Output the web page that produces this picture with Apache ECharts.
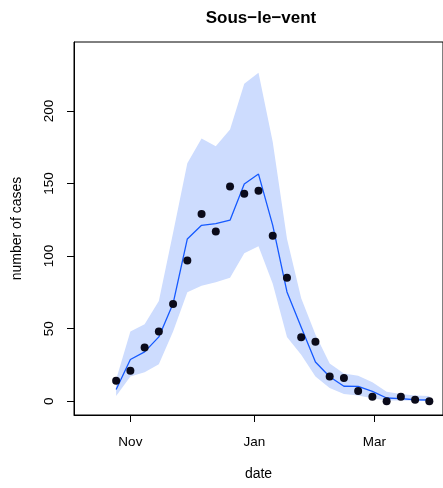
<!DOCTYPE html>
<html>
<head>
<meta charset="utf-8">
<title>Sous-le-vent</title>
<script src="https://cdn.jsdelivr.net/npm/echarts@6/dist/echarts.min.js"></script>
<style>
  html, body { margin: 0; padding: 0; background: #fff; }
  #chart { width: 443px; height: 488px; }
</style>
</head>
<body>
<div id="chart"></div>
<script>
// Weekly reported cases with model median and prediction band
const weeks = [
  '2020-10-25', '2020-11-01', '2020-11-08', '2020-11-15', '2020-11-22', '2020-11-29',
  '2020-12-06', '2020-12-13', '2020-12-20', '2020-12-27', '2021-01-03', '2021-01-10',
  '2021-01-17', '2021-01-24', '2021-01-31', '2021-02-07', '2021-02-14', '2021-02-21',
  '2021-02-28', '2021-03-07', '2021-03-14', '2021-03-21', '2021-03-28'
];
const observed = [14, 21, 37, 48, 67, 97, 129, 117, 148, 143, 145, 114, 85, 44, 41, 17, 16, 7, 3, 0, 3, 1, 0];
const median = [8, 28.7, 34, 44.3, 67.3, 111.8, 121.2, 122.4, 124.7, 149.7, 156.5, 121.2, 75.3, 51, 27, 16.8, 10.3, 10.2, 6.8, 2.2, 1.7, 1, 0.8];
const upper = [15, 48, 53, 69, 116, 164, 181, 175.6, 187.3, 218.8, 226.4, 178.6, 112, 71, 46, 26, 19, 17.5, 13, 6.5, 5, 4, 3.5];
const lower = [3.5, 17, 20, 25.5, 48, 75, 79.5, 82, 85, 102, 106.8, 81, 44.3, 32, 17, 9, 5, 4, 2, 0.5, 0.5, 0.5, 0.5];

const yTicks = [0, 50, 100, 150, 200];
const xTickDates = ['2020-11-01', '2021-01-01', '2021-03-01'];
const xTickLabels = ['Nov', 'Jan', 'Mar'];

// Plot limits (data range padded by 4% on each side)
const xLimits = ['2020-10-11', '2021-03-28'];
const yLimits = [0, 238];

const FONT = '"Liberation Sans", Arial, Helvetica, sans-serif';
const t = weeks.map(d => Date.parse(d));
const xTicks = xTickDates.map(d => Date.parse(d));
const x0 = Date.parse(xLimits[0]), x1 = Date.parse(xLimits[1]);
const xPad = 0.04 * (x1 - x0);
const yPad = 0.04 * (yLimits[1] - yLimits[0]);

const pairs = arr => arr.map((v, i) => [t[i], v]);

// Band polygon: upper edge left to right, then lower edge right to left
function renderBand(params, api) {
  const pts = [];
  for (let i = 0; i < t.length; i++) pts.push(api.coord([t[i], upper[i]]));
  for (let i = t.length - 1; i >= 0; i--) pts.push(api.coord([t[i], lower[i]]));
  return {
    type: 'polygon',
    shape: { points: pts },
    style: { fill: '#cddcfe', stroke: null },
    silent: true
  };
}

const chart = echarts.init(document.getElementById('chart'), null, { renderer: 'canvas' });
chart.setOption({
  animation: false,
  backgroundColor: '#ffffff',
  textStyle: { fontFamily: FONT },
  graphic: [{
    type: 'text',
    x: 261, y: 18,
    style: {
      text: 'Sous\u2212le\u2212vent',
      fill: '#000',
      font: 'bold 17px ' + FONT,
      textAlign: 'center',
      textVerticalAlign: 'middle'
    }
  }],
  grid: {
    left: 74, top: 42, right: -5, bottom: 73,
    show: true, borderColor: '#000', borderWidth: 1, backgroundColor: 'transparent'
  },
  xAxis: {
    type: 'value',
    min: x0 - xPad,
    max: x1 + xPad,
    splitLine: { show: false },
    axisLine: { show: true, onZero: false, lineStyle: { color: '#000', width: 1 } },
    axisTick: { show: true, inside: false, length: 7, customValues: xTicks, lineStyle: { color: '#000' } },
    axisLabel: {
      customValues: xTicks,
      margin: 20,
      color: '#000',
      fontSize: 13.5,
      fontFamily: FONT,
      formatter: v => {
        const i = xTicks.indexOf(v);
        return i >= 0 ? xTickLabels[i] : '';
      }
    },
    name: 'date',
    nameLocation: 'middle',
    nameGap: 52,
    nameTextStyle: { color: '#000', fontSize: 14, fontFamily: FONT }
  },
  yAxis: {
    type: 'value',
    min: yLimits[0] - yPad,
    max: yLimits[1] + yPad,
    splitLine: { show: false },
    axisLine: { show: true, onZero: false, lineStyle: { color: '#000', width: 1 } },
    axisTick: { show: true, inside: false, length: 7, customValues: yTicks, lineStyle: { color: '#000' } },
    axisLabel: {
      customValues: yTicks,
      rotate: 90,
      margin: 18,
      color: '#000',
      fontSize: 13.5,
      fontFamily: FONT
    },
    name: 'number of cases',
    nameLocation: 'middle',
    nameGap: 50,
    nameRotate: 90,
    nameTextStyle: { color: '#000', fontSize: 14, fontFamily: FONT }
  },
  series: [
    {
      name: 'band',
      type: 'custom',
      renderItem: renderBand,
      data: [[t[0], upper[0]]],
      clip: true,
      silent: true,
      z: 1
    },
    {
      name: 'median',
      type: 'line',
      data: pairs(median),
      symbol: 'none',
      lineStyle: { color: '#1559ff', width: 1.3 },
      z: 2
    },
    {
      name: 'observed',
      type: 'scatter',
      data: pairs(observed),
      symbol: 'circle',
      symbolSize: 8,
      itemStyle: { color: '#0a0a1a', opacity: 1 },
      z: 3
    }
  ]
});
</script>
</body>
</html>
